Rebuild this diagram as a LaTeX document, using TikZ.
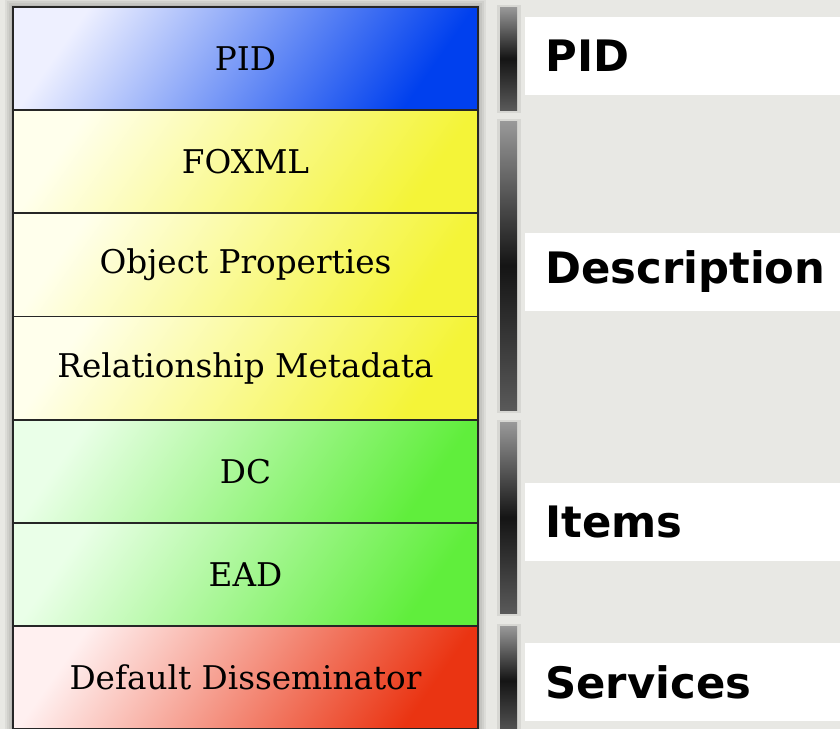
\documentclass[tikz,border=0pt]{standalone}
\usepackage{fontspec}
\setmainfont{DejaVu Serif}
\newfontfamily\tagfont{DejaVu Sans}
\usepackage{tikz}
\usetikzlibrary{positioning}
\usepackage{xcolor}
\definecolor{pagebg}{HTML}{E8E8E4}
\definecolor{bluefull}{HTML}{0040EE}
\definecolor{bluepale}{HTML}{EEF0FF}
\definecolor{yellowfull}{HTML}{F4F438}
\definecolor{yellowpale}{HTML}{FFFFEC}
\definecolor{greenfull}{HTML}{60EE3C}
\definecolor{greenpale}{HTML}{EAFFE8}
\definecolor{redfull}{HTML}{EA3412}
\definecolor{redpale}{HTML}{FFF0F0}

\begin{document}
\begin{tikzpicture}[x=0.75pt,y=-0.75pt,node distance=0pt,
      layer/.style={draw=black!85,line width=1.4pt,outer sep=0pt,inner sep=0pt,
          minimum width=348.75pt,minimum height=77.36pt,
          font=\fontsize{24.5}{28}\selectfont},
      bluelayer/.style={layer,left color=bluepale,right color=bluefull,shading angle=55},
      yellowlayer/.style={layer,left color=yellowpale,right color=yellowfull,shading angle=55},
      greenlayer/.style={layer,left color=greenpale,right color=greenfull,shading angle=55},
      redlayer/.style={layer,left color=redpale,right color=redfull,shading angle=55},
      groupbar/.style={top color=black!40,bottom color=black!65,middle color=black!92},
      barshadow/.style={fill=black,opacity=0.07},
      grouptag/.style={fill=white,anchor=west,inner xsep=15pt,inner ysep=0pt,
          minimum width=236.25pt,minimum height=58.5pt,text width=206.25pt,align=left,
          font=\tagfont\bfseries\fontsize{32.5}{36}\selectfont}]
    \fill[pagebg] (0,0) rectangle (840,729);
    \useasboundingbox (0,0) rectangle (840,729);
    % soft shadow round the column
    \foreach \d in {2,4,6,8}
      \fill[black,opacity=0.05] (13-\d,7-\d) rectangle (478+\d,729+\d);
    % the stack of datastreams
    \node[bluelayer,anchor=north west] (pid) at (13,7) {PID};
    \node[yellowlayer,below=of pid] (foxml) {FOXML};
    \node[yellowlayer,below=of foxml] (props) {Object Properties};
    \node[yellowlayer,below=of props] (rels) {Relationship Metadata};
    \node[greenlayer,below=of rels] (dc) {DC};
    \node[greenlayer,below=of dc] (ead) {EAD};
    \node[redlayer,below=of ead] (dissem) {Default Disseminator};
    % group bars
    \foreach \t/\b in {7/110,121/410,422/613,626/735}{
      \fill[barshadow] (497,\t-2) rectangle (521,\b+3);
      \shade[groupbar] (500,\t) rectangle (517,\b);
    }
    % group names
    \node[grouptag] (pidtag) at (525,56) {PID};
    \node[grouptag] (desctag) at (525,272) {Description};
    \node[grouptag] (itemtag) at (525,522) {Items};
    \node[grouptag] (servtag) at (525,682) {Services};
  \end{tikzpicture}
\end{document}
